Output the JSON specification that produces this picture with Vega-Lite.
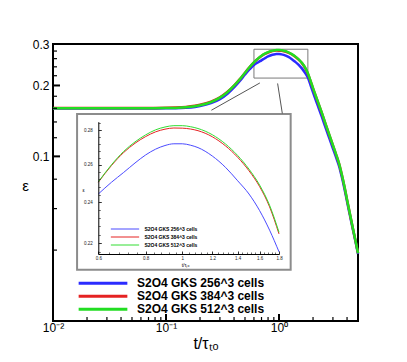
{
  "$schema": "https://vega.github.io/schema/vega-lite/v6.json",
  "width": 305,
  "height": 277,
  "autosize": "none",
  "padding": {"left": 53, "top": 44, "right": 49, "bottom": 41},
  "background": "white",
  "config": {
    "font": "Liberation Sans",
    "view": {"stroke": "black", "strokeWidth": 2},
    "axis": {"grid": false, "labelFont": "Liberation Sans", "titleFont": "Liberation Sans", "labelColor": "black", "titleColor": "black", "titleFontWeight": "normal"}
  },
  "datasets": {
    "curves": [
      {"t": 0.01, "eps": 0.1597, "series": "S2O4 GKS 256^3 cells"},
      {"t": 0.02, "eps": 0.1597, "series": "S2O4 GKS 256^3 cells"},
      {"t": 0.03, "eps": 0.1597, "series": "S2O4 GKS 256^3 cells"},
      {"t": 0.05, "eps": 0.1597, "series": "S2O4 GKS 256^3 cells"},
      {"t": 0.07, "eps": 0.1598, "series": "S2O4 GKS 256^3 cells"},
      {"t": 0.1, "eps": 0.1599, "series": "S2O4 GKS 256^3 cells"},
      {"t": 0.12, "eps": 0.1601, "series": "S2O4 GKS 256^3 cells"},
      {"t": 0.15, "eps": 0.1608, "series": "S2O4 GKS 256^3 cells"},
      {"t": 0.18, "eps": 0.1622, "series": "S2O4 GKS 256^3 cells"},
      {"t": 0.2, "eps": 0.1636, "series": "S2O4 GKS 256^3 cells"},
      {"t": 0.25, "eps": 0.1683, "series": "S2O4 GKS 256^3 cells"},
      {"t": 0.3, "eps": 0.175, "series": "S2O4 GKS 256^3 cells"},
      {"t": 0.35, "eps": 0.1845, "series": "S2O4 GKS 256^3 cells"},
      {"t": 0.4, "eps": 0.1962, "series": "S2O4 GKS 256^3 cells"},
      {"t": 0.45, "eps": 0.209, "series": "S2O4 GKS 256^3 cells"},
      {"t": 0.5, "eps": 0.2225, "series": "S2O4 GKS 256^3 cells"},
      {"t": 0.55, "eps": 0.2345, "series": "S2O4 GKS 256^3 cells"},
      {"t": 0.6, "eps": 0.2443, "series": "S2O4 GKS 256^3 cells"},
      {"t": 0.65, "eps": 0.2505, "series": "S2O4 GKS 256^3 cells"},
      {"t": 0.7, "eps": 0.2558, "series": "S2O4 GKS 256^3 cells"},
      {"t": 0.75, "eps": 0.261, "series": "S2O4 GKS 256^3 cells"},
      {"t": 0.8, "eps": 0.2655, "series": "S2O4 GKS 256^3 cells"},
      {"t": 0.85, "eps": 0.2688, "series": "S2O4 GKS 256^3 cells"},
      {"t": 0.9, "eps": 0.2709, "series": "S2O4 GKS 256^3 cells"},
      {"t": 0.95, "eps": 0.2719, "series": "S2O4 GKS 256^3 cells"},
      {"t": 1.0, "eps": 0.2719, "series": "S2O4 GKS 256^3 cells"},
      {"t": 1.05, "eps": 0.2711, "series": "S2O4 GKS 256^3 cells"},
      {"t": 1.1, "eps": 0.2697, "series": "S2O4 GKS 256^3 cells"},
      {"t": 1.2, "eps": 0.2649, "series": "S2O4 GKS 256^3 cells"},
      {"t": 1.3, "eps": 0.2586, "series": "S2O4 GKS 256^3 cells"},
      {"t": 1.4, "eps": 0.2513, "series": "S2O4 GKS 256^3 cells"},
      {"t": 1.5, "eps": 0.2443, "series": "S2O4 GKS 256^3 cells"},
      {"t": 1.6, "eps": 0.2358, "series": "S2O4 GKS 256^3 cells"},
      {"t": 1.7, "eps": 0.2262, "series": "S2O4 GKS 256^3 cells"},
      {"t": 1.8, "eps": 0.216, "series": "S2O4 GKS 256^3 cells"},
      {"t": 1.9, "eps": 0.2009, "series": "S2O4 GKS 256^3 cells"},
      {"t": 2.0, "eps": 0.1868, "series": "S2O4 GKS 256^3 cells"},
      {"t": 2.2, "eps": 0.1646, "series": "S2O4 GKS 256^3 cells"},
      {"t": 2.4, "eps": 0.1467, "series": "S2O4 GKS 256^3 cells"},
      {"t": 2.6, "eps": 0.1311, "series": "S2O4 GKS 256^3 cells"},
      {"t": 2.8, "eps": 0.1186, "series": "S2O4 GKS 256^3 cells"},
      {"t": 3.0, "eps": 0.1079, "series": "S2O4 GKS 256^3 cells"},
      {"t": 3.2, "eps": 0.099, "series": "S2O4 GKS 256^3 cells"},
      {"t": 3.4, "eps": 0.0909, "series": "S2O4 GKS 256^3 cells"},
      {"t": 3.6, "eps": 0.0815, "series": "S2O4 GKS 256^3 cells"},
      {"t": 3.8, "eps": 0.0726, "series": "S2O4 GKS 256^3 cells"},
      {"t": 4.0, "eps": 0.0643, "series": "S2O4 GKS 256^3 cells"},
      {"t": 4.25, "eps": 0.0559, "series": "S2O4 GKS 256^3 cells"},
      {"t": 4.5, "eps": 0.049, "series": "S2O4 GKS 256^3 cells"},
      {"t": 4.75, "eps": 0.0435, "series": "S2O4 GKS 256^3 cells"},
      {"t": 5.0, "eps": 0.0385, "series": "S2O4 GKS 256^3 cells"},
      {"t": 0.01, "eps": 0.1603, "series": "S2O4 GKS 384^3 cells"},
      {"t": 0.02, "eps": 0.1603, "series": "S2O4 GKS 384^3 cells"},
      {"t": 0.03, "eps": 0.1603, "series": "S2O4 GKS 384^3 cells"},
      {"t": 0.05, "eps": 0.1603, "series": "S2O4 GKS 384^3 cells"},
      {"t": 0.07, "eps": 0.1604, "series": "S2O4 GKS 384^3 cells"},
      {"t": 0.1, "eps": 0.1607, "series": "S2O4 GKS 384^3 cells"},
      {"t": 0.12, "eps": 0.1611, "series": "S2O4 GKS 384^3 cells"},
      {"t": 0.15, "eps": 0.1621, "series": "S2O4 GKS 384^3 cells"},
      {"t": 0.18, "eps": 0.1639, "series": "S2O4 GKS 384^3 cells"},
      {"t": 0.2, "eps": 0.1655, "series": "S2O4 GKS 384^3 cells"},
      {"t": 0.25, "eps": 0.1707, "series": "S2O4 GKS 384^3 cells"},
      {"t": 0.3, "eps": 0.1781, "series": "S2O4 GKS 384^3 cells"},
      {"t": 0.35, "eps": 0.188, "series": "S2O4 GKS 384^3 cells"},
      {"t": 0.4, "eps": 0.1998, "series": "S2O4 GKS 384^3 cells"},
      {"t": 0.45, "eps": 0.2127, "series": "S2O4 GKS 384^3 cells"},
      {"t": 0.5, "eps": 0.2266, "series": "S2O4 GKS 384^3 cells"},
      {"t": 0.55, "eps": 0.2395, "series": "S2O4 GKS 384^3 cells"},
      {"t": 0.6, "eps": 0.2505, "series": "S2O4 GKS 384^3 cells"},
      {"t": 0.65, "eps": 0.2596, "series": "S2O4 GKS 384^3 cells"},
      {"t": 0.7, "eps": 0.2669, "series": "S2O4 GKS 384^3 cells"},
      {"t": 0.75, "eps": 0.2722, "series": "S2O4 GKS 384^3 cells"},
      {"t": 0.8, "eps": 0.2761, "series": "S2O4 GKS 384^3 cells"},
      {"t": 0.85, "eps": 0.2789, "series": "S2O4 GKS 384^3 cells"},
      {"t": 0.9, "eps": 0.2805, "series": "S2O4 GKS 384^3 cells"},
      {"t": 0.95, "eps": 0.2812, "series": "S2O4 GKS 384^3 cells"},
      {"t": 1.0, "eps": 0.2811, "series": "S2O4 GKS 384^3 cells"},
      {"t": 1.05, "eps": 0.2806, "series": "S2O4 GKS 384^3 cells"},
      {"t": 1.1, "eps": 0.2796, "series": "S2O4 GKS 384^3 cells"},
      {"t": 1.2, "eps": 0.276, "series": "S2O4 GKS 384^3 cells"},
      {"t": 1.3, "eps": 0.2707, "series": "S2O4 GKS 384^3 cells"},
      {"t": 1.4, "eps": 0.2642, "series": "S2O4 GKS 384^3 cells"},
      {"t": 1.5, "eps": 0.2567, "series": "S2O4 GKS 384^3 cells"},
      {"t": 1.6, "eps": 0.2482, "series": "S2O4 GKS 384^3 cells"},
      {"t": 1.7, "eps": 0.2377, "series": "S2O4 GKS 384^3 cells"},
      {"t": 1.8, "eps": 0.2244, "series": "S2O4 GKS 384^3 cells"},
      {"t": 1.9, "eps": 0.209, "series": "S2O4 GKS 384^3 cells"},
      {"t": 2.0, "eps": 0.1944, "series": "S2O4 GKS 384^3 cells"},
      {"t": 2.2, "eps": 0.171, "series": "S2O4 GKS 384^3 cells"},
      {"t": 2.4, "eps": 0.1521, "series": "S2O4 GKS 384^3 cells"},
      {"t": 2.6, "eps": 0.1357, "series": "S2O4 GKS 384^3 cells"},
      {"t": 2.8, "eps": 0.1225, "series": "S2O4 GKS 384^3 cells"},
      {"t": 3.0, "eps": 0.1113, "series": "S2O4 GKS 384^3 cells"},
      {"t": 3.2, "eps": 0.1018, "series": "S2O4 GKS 384^3 cells"},
      {"t": 3.4, "eps": 0.0931, "series": "S2O4 GKS 384^3 cells"},
      {"t": 3.6, "eps": 0.0834, "series": "S2O4 GKS 384^3 cells"},
      {"t": 3.8, "eps": 0.0741, "series": "S2O4 GKS 384^3 cells"},
      {"t": 4.0, "eps": 0.0654, "series": "S2O4 GKS 384^3 cells"},
      {"t": 4.25, "eps": 0.0567, "series": "S2O4 GKS 384^3 cells"},
      {"t": 4.5, "eps": 0.0495, "series": "S2O4 GKS 384^3 cells"},
      {"t": 4.75, "eps": 0.0438, "series": "S2O4 GKS 384^3 cells"},
      {"t": 5.0, "eps": 0.0388, "series": "S2O4 GKS 384^3 cells"},
      {"t": 0.01, "eps": 0.16, "series": "S2O4 GKS 512^3 cells"},
      {"t": 0.02, "eps": 0.16, "series": "S2O4 GKS 512^3 cells"},
      {"t": 0.03, "eps": 0.16, "series": "S2O4 GKS 512^3 cells"},
      {"t": 0.05, "eps": 0.16, "series": "S2O4 GKS 512^3 cells"},
      {"t": 0.07, "eps": 0.1601, "series": "S2O4 GKS 512^3 cells"},
      {"t": 0.1, "eps": 0.1603, "series": "S2O4 GKS 512^3 cells"},
      {"t": 0.12, "eps": 0.1606, "series": "S2O4 GKS 512^3 cells"},
      {"t": 0.15, "eps": 0.1615, "series": "S2O4 GKS 512^3 cells"},
      {"t": 0.18, "eps": 0.1632, "series": "S2O4 GKS 512^3 cells"},
      {"t": 0.2, "eps": 0.1648, "series": "S2O4 GKS 512^3 cells"},
      {"t": 0.25, "eps": 0.17, "series": "S2O4 GKS 512^3 cells"},
      {"t": 0.3, "eps": 0.1775, "series": "S2O4 GKS 512^3 cells"},
      {"t": 0.35, "eps": 0.1875, "series": "S2O4 GKS 512^3 cells"},
      {"t": 0.4, "eps": 0.1995, "series": "S2O4 GKS 512^3 cells"},
      {"t": 0.45, "eps": 0.2125, "series": "S2O4 GKS 512^3 cells"},
      {"t": 0.5, "eps": 0.2265, "series": "S2O4 GKS 512^3 cells"},
      {"t": 0.55, "eps": 0.2395, "series": "S2O4 GKS 512^3 cells"},
      {"t": 0.6, "eps": 0.2507, "series": "S2O4 GKS 512^3 cells"},
      {"t": 0.65, "eps": 0.26, "series": "S2O4 GKS 512^3 cells"},
      {"t": 0.7, "eps": 0.2675, "series": "S2O4 GKS 512^3 cells"},
      {"t": 0.75, "eps": 0.273, "series": "S2O4 GKS 512^3 cells"},
      {"t": 0.8, "eps": 0.2771, "series": "S2O4 GKS 512^3 cells"},
      {"t": 0.85, "eps": 0.2801, "series": "S2O4 GKS 512^3 cells"},
      {"t": 0.9, "eps": 0.2818, "series": "S2O4 GKS 512^3 cells"},
      {"t": 0.95, "eps": 0.2826, "series": "S2O4 GKS 512^3 cells"},
      {"t": 1.0, "eps": 0.2826, "series": "S2O4 GKS 512^3 cells"},
      {"t": 1.05, "eps": 0.282, "series": "S2O4 GKS 512^3 cells"},
      {"t": 1.1, "eps": 0.2809, "series": "S2O4 GKS 512^3 cells"},
      {"t": 1.2, "eps": 0.2772, "series": "S2O4 GKS 512^3 cells"},
      {"t": 1.3, "eps": 0.2718, "series": "S2O4 GKS 512^3 cells"},
      {"t": 1.4, "eps": 0.2652, "series": "S2O4 GKS 512^3 cells"},
      {"t": 1.5, "eps": 0.2576, "series": "S2O4 GKS 512^3 cells"},
      {"t": 1.6, "eps": 0.249, "series": "S2O4 GKS 512^3 cells"},
      {"t": 1.7, "eps": 0.2385, "series": "S2O4 GKS 512^3 cells"},
      {"t": 1.8, "eps": 0.2252, "series": "S2O4 GKS 512^3 cells"},
      {"t": 1.9, "eps": 0.2097, "series": "S2O4 GKS 512^3 cells"},
      {"t": 2.0, "eps": 0.195, "series": "S2O4 GKS 512^3 cells"},
      {"t": 2.2, "eps": 0.1715, "series": "S2O4 GKS 512^3 cells"},
      {"t": 2.4, "eps": 0.1525, "series": "S2O4 GKS 512^3 cells"},
      {"t": 2.6, "eps": 0.136, "series": "S2O4 GKS 512^3 cells"},
      {"t": 2.8, "eps": 0.1228, "series": "S2O4 GKS 512^3 cells"},
      {"t": 3.0, "eps": 0.1115, "series": "S2O4 GKS 512^3 cells"},
      {"t": 3.2, "eps": 0.102, "series": "S2O4 GKS 512^3 cells"},
      {"t": 3.4, "eps": 0.0933, "series": "S2O4 GKS 512^3 cells"},
      {"t": 3.6, "eps": 0.0835, "series": "S2O4 GKS 512^3 cells"},
      {"t": 3.8, "eps": 0.0742, "series": "S2O4 GKS 512^3 cells"},
      {"t": 4.0, "eps": 0.0655, "series": "S2O4 GKS 512^3 cells"},
      {"t": 4.25, "eps": 0.0568, "series": "S2O4 GKS 512^3 cells"},
      {"t": 4.5, "eps": 0.0496, "series": "S2O4 GKS 512^3 cells"},
      {"t": 4.75, "eps": 0.0439, "series": "S2O4 GKS 512^3 cells"},
      {"t": 5.0, "eps": 0.0388, "series": "S2O4 GKS 512^3 cells"}
    ],
    "zoombox": [{"t0": 0.6, "t1": 1.8, "e0": 0.215, "e1": 0.285}],
    "insetbox": [{"t0": 0.01633, "t1": 1.268, "e0": 0.033, "e1": 0.1515}],
    "connectors": [
      {"ta": 0.677, "ea": 0.205, "tb": 0.252, "eb": 0.157},
      {"ta": 0.972, "ea": 0.204, "tb": 1.07, "eb": 0.152}
    ],
    "xmajor": [{"t": 0.01, "eps": 0.02}, {"t": 0.1, "eps": 0.02}, {"t": 1, "eps": 0.02}],
    "xminor": [{"t": 0.02, "eps": 0.02}, {"t": 0.03, "eps": 0.02}, {"t": 0.04, "eps": 0.02}, {"t": 0.05, "eps": 0.02}, {"t": 0.06, "eps": 0.02}, {"t": 0.07, "eps": 0.02}, {"t": 0.08, "eps": 0.02}, {"t": 0.09, "eps": 0.02}, {"t": 0.2, "eps": 0.02}, {"t": 0.3, "eps": 0.02}, {"t": 0.4, "eps": 0.02}, {"t": 0.5, "eps": 0.02}, {"t": 0.6, "eps": 0.02}, {"t": 0.7, "eps": 0.02}, {"t": 0.8, "eps": 0.02}, {"t": 0.9, "eps": 0.02}, {"t": 2, "eps": 0.02}, {"t": 3, "eps": 0.02}, {"t": 4, "eps": 0.02}],
    "ymajor": [{"t": 0.01, "eps": 0.1}, {"t": 0.01, "eps": 0.2}, {"t": 0.01, "eps": 0.3}],
    "yminor": [{"t": 0.01, "eps": 0.04}, {"t": 0.01, "eps": 0.06}, {"t": 0.01, "eps": 0.08}, {"t": 0.01, "eps": 0.12}, {"t": 0.01, "eps": 0.14}, {"t": 0.01, "eps": 0.16}, {"t": 0.01, "eps": 0.18}, {"t": 0.01, "eps": 0.22}, {"t": 0.01, "eps": 0.24}, {"t": 0.01, "eps": 0.26}, {"t": 0.01, "eps": 0.28}]
  },
  "layer": [
    {
      "data": {"name": "insetbox"},
      "mark": {"type": "rect", "fill": "white", "stroke": "#8c8c8c", "strokeWidth": 2},
      "encoding": {
        "x": {"field": "t0", "type": "quantitative", "scale": {"type": "log", "domain": [0.01, 5], "nice": false},
          "axis": {"orient": "bottom", "domain": false, "ticks": false, "labels": false, "title": null}},
        "x2": {"field": "t1"},
        "y": {"field": "e0", "type": "quantitative", "scale": {"type": "log", "domain": [0.02, 0.3], "nice": false},
          "axis": {"orient": "left", "domain": false, "ticks": false, "labels": false, "title": null}},
        "y2": {"field": "e1"}
      }
    },
    {
      "data": {"name": "connectors"},
      "mark": {"type": "rule", "stroke": "#555555", "strokeWidth": 1},
      "encoding": {
        "x": {"field": "ta", "type": "quantitative", "scale": {"type": "log", "domain": [0.01, 5], "nice": false},
          "axis": {"orient": "bottom", "domain": false, "ticks": false, "labels": false, "title": null}},
        "y": {"field": "ea", "type": "quantitative", "scale": {"type": "log", "domain": [0.02, 0.3], "nice": false},
          "axis": {"orient": "left", "domain": false, "ticks": false, "labels": false, "title": null}},
        "x2": {"field": "tb"},
        "y2": {"field": "eb"}
      }
    },
    {
      "data": {"name": "zoombox"},
      "mark": {"type": "rect", "fill": "white", "fillOpacity": 0, "stroke": "#7a7a7a", "strokeWidth": 1},
      "encoding": {
        "x": {"field": "t0", "type": "quantitative", "scale": {"type": "log", "domain": [0.01, 5], "nice": false},
          "axis": {"orient": "bottom", "domain": false, "ticks": false, "labels": false, "title": null}},
        "x2": {"field": "t1"},
        "y": {"field": "e0", "type": "quantitative", "scale": {"type": "log", "domain": [0.02, 0.3], "nice": false},
          "axis": {"orient": "left", "domain": false, "ticks": false, "labels": false, "title": null}},
        "y2": {"field": "e1"}
      }
    },
    {
      "data": {"name": "curves"},
      "mark": {"type": "line", "strokeWidth": 2.5, "interpolate": "monotone"},
      "encoding": {
        "x": {"field": "t", "type": "quantitative", "scale": {"type": "log", "domain": [0.01, 5], "nice": false},
          "axis": {"orient": "bottom", "zindex": 1, "domain": false, "ticks": false, "values": [0.01, 0.1, 1], "labelExpr": "datum.value < 0.05 ? '10⁻²' : datum.value < 0.5 ? '10⁻¹' : '10⁰'", "labelFlush": false, "labelFontSize": 12, "labelPadding": 1, "title": "t/τₜₒ", "titleFontSize": 16, "titlePadding": 2}},
        "y": {"field": "eps", "type": "quantitative", "scale": {"type": "log", "domain": [0.02, 0.3], "nice": false},
          "axis": {"orient": "left", "zindex": 1, "domain": false, "ticks": false, "values": [0.1, 0.2, 0.3], "format": ".1f", "labelFontSize": 12, "labelPadding": 4, "title": "ε", "titleAngle": 0, "titleFontSize": 15, "titleX": -28, "titleY": 141, "titleBaseline": "middle", "titleAlign": "center"}},
        "color": {"field": "series", "type": "nominal",
          "scale": {"domain": ["S2O4 GKS 256^3 cells", "S2O4 GKS 384^3 cells", "S2O4 GKS 512^3 cells"], "range": ["#2b2bff", "#e52222", "#22dd22"]},
          "legend": {"orient": "none", "legendX": 24, "legendY": 233, "title": null, "symbolType": "stroke", "symbolSize": 2372, "symbolStrokeWidth": 3, "labelFontSize": 12, "labelFontWeight": "bold", "labelFont": "Liberation Sans", "labelColor": "black", "labelOffset": 8, "clipHeight": 12.7, "rowPadding": 0, "padding": 0}}
      }
    },
    {
      "data": {"name": "curves"},
      "transform": [{"filter": "datum.t >= 0.6 && datum.t <= 1.8"}],
      "mark": {"type": "line", "opacity": 0},
      "encoding": {
        "x": {"field": "t", "type": "quantitative", "scale": {"type": "log", "domain": [0.6, 1.8], "nice": false, "range": [45.3, 226]},
          "axis": {"orient": "bottom", "zindex": 1, "offset": -67, "domain": true, "domainColor": "black", "domainWidth": 1, "values": [0.64, 0.68, 0.72, 0.76, 0.84, 0.88, 0.92, 0.96, 1.04, 1.08, 1.12, 1.16, 1.24, 1.28, 1.32, 1.36, 1.44, 1.48, 1.52, 1.56, 1.64, 1.68, 1.72, 1.76], "labels": false, "title": null, "tickSize": -2, "tickWidth": 0.7, "tickColor": "#333333"}},
        "y": {"field": "eps", "type": "quantitative", "scale": {"type": "log", "domain": [0.215, 0.285], "nice": false, "range": [210, 77.7]},
          "axis": {"orient": "left", "zindex": 1, "offset": -45.3, "domain": true, "domainColor": "black", "domainWidth": 1, "values": [0.216, 0.224, 0.228, 0.232, 0.236, 0.244, 0.248, 0.252, 0.256, 0.264, 0.268, 0.272, 0.276, 0.284], "labels": false, "title": null, "tickSize": -2, "tickWidth": 0.7, "tickColor": "#333333"}}
      }
    },
    {
      "data": {"name": "curves"},
      "transform": [{"filter": "datum.t >= 0.6 && datum.t <= 1.8"}],
      "mark": {"type": "line", "strokeWidth": 1, "interpolate": "monotone"},
      "encoding": {
        "x": {"field": "t", "type": "quantitative", "scale": {"type": "log", "domain": [0.6, 1.8], "nice": false, "range": [45.3, 226]},
          "axis": {"orient": "bottom", "zindex": 1, "offset": -67, "domain": false, "values": [0.6, 0.8, 1, 1.2, 1.4, 1.6, 1.8], "format": "~g", "labelFlush": false, "labelFontSize": 4.5, "labelColor": "#222222", "tickSize": -3, "tickWidth": 0.8, "tickColor": "black", "labelPadding": 4, "title": "t/τₜₒ", "titleFontSize": 5, "titleX": 132, "titleY": 10, "titleBaseline": "middle"}},
        "y": {"field": "eps", "type": "quantitative", "scale": {"type": "log", "domain": [0.215, 0.285], "nice": false, "range": [210, 77.7]},
          "axis": {"orient": "left", "zindex": 1, "offset": -45.3, "domain": false, "values": [0.22, 0.24, 0.26, 0.28], "format": ".2f", "labelFontSize": 4.5, "labelColor": "#222222", "tickSize": -3, "tickWidth": 0.8, "tickColor": "black", "labelPadding": 9, "title": "ε", "titleAngle": 0, "titleFontSize": 5, "titleX": -15.3, "titleY": 145, "titleBaseline": "middle", "titleAlign": "center"}},
        "color": {"field": "series", "type": "nominal",
          "scale": {"domain": ["S2O4 GKS 256^3 cells", "S2O4 GKS 384^3 cells", "S2O4 GKS 512^3 cells"], "range": ["#4b4bff", "#e52222", "#33dd33"]},
          "legend": {"orient": "none", "legendX": 57, "legendY": 181.1, "title": null, "symbolType": "stroke", "symbolSize": 801, "symbolStrokeWidth": 1, "labelFontSize": 5, "labelFontWeight": "bold", "labelFont": "Liberation Sans", "labelColor": "black", "labelOffset": 4.4, "clipHeight": 7.8, "rowPadding": 0, "padding": 0}}
      }
    },
    {
      "data": {"name": "xmajor"},
      "mark": {"type": "tick", "orient": "vertical", "size": 7, "thickness": 2, "color": "black", "opacity": 1, "yOffset": -3.5},
      "encoding": {
        "x": {"field": "t", "type": "quantitative", "scale": {"type": "log", "domain": [0.01, 5], "nice": false},
          "axis": {"orient": "bottom", "domain": false, "ticks": false, "labels": false, "title": null}},
        "y": {"field": "eps", "type": "quantitative", "scale": {"type": "log", "domain": [0.02, 0.3], "nice": false},
          "axis": {"orient": "left", "domain": false, "ticks": false, "labels": false, "title": null}}
      }
    },
    {
      "data": {"name": "xminor"},
      "mark": {"type": "tick", "orient": "vertical", "size": 4, "thickness": 1.2, "color": "black", "opacity": 1, "yOffset": -2},
      "encoding": {
        "x": {"field": "t", "type": "quantitative", "scale": {"type": "log", "domain": [0.01, 5], "nice": false},
          "axis": {"orient": "bottom", "domain": false, "ticks": false, "labels": false, "title": null}},
        "y": {"field": "eps", "type": "quantitative", "scale": {"type": "log", "domain": [0.02, 0.3], "nice": false},
          "axis": {"orient": "left", "domain": false, "ticks": false, "labels": false, "title": null}}
      }
    },
    {
      "data": {"name": "ymajor"},
      "mark": {"type": "tick", "orient": "horizontal", "size": 7, "thickness": 2, "color": "black", "opacity": 1, "xOffset": 3.5},
      "encoding": {
        "x": {"field": "t", "type": "quantitative", "scale": {"type": "log", "domain": [0.01, 5], "nice": false},
          "axis": {"orient": "bottom", "domain": false, "ticks": false, "labels": false, "title": null}},
        "y": {"field": "eps", "type": "quantitative", "scale": {"type": "log", "domain": [0.02, 0.3], "nice": false},
          "axis": {"orient": "left", "domain": false, "ticks": false, "labels": false, "title": null}}
      }
    },
    {
      "data": {"name": "yminor"},
      "mark": {"type": "tick", "orient": "horizontal", "size": 4, "thickness": 1.2, "color": "black", "opacity": 1, "xOffset": 2},
      "encoding": {
        "x": {"field": "t", "type": "quantitative", "scale": {"type": "log", "domain": [0.01, 5], "nice": false},
          "axis": {"orient": "bottom", "domain": false, "ticks": false, "labels": false, "title": null}},
        "y": {"field": "eps", "type": "quantitative", "scale": {"type": "log", "domain": [0.02, 0.3], "nice": false},
          "axis": {"orient": "left", "domain": false, "ticks": false, "labels": false, "title": null}}
      }
    }
  ],
  "resolve": {
    "scale": {"x": "independent", "y": "independent", "color": "independent"},
    "axis": {"x": "independent", "y": "independent"}
  }
}
